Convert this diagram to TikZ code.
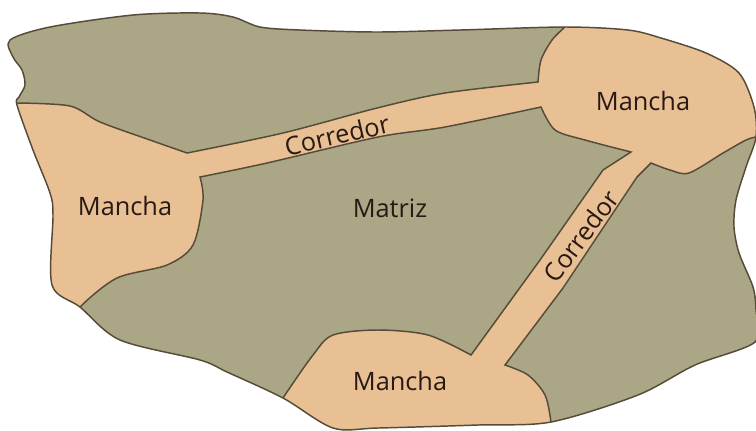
\documentclass[tikz,border=0pt]{standalone}
\usepackage{fontspec}
\setmainfont{Open Sans}
\usepackage{tikz}

\newcommand{\bordematriz}{plot [smooth cycle, tension=0.5] coordinates {(10,40) (50,27) (133,15) (200,13) (233,17) (260,27) (300,30) (377,32) (460,30) (565,27) (628,30) (661,38) (706,53) (739,73) (754,107) (756,137) (746,167) (736,200) (734,227) (739,253) (753,287) (756,310) (755,342) (695,365) (638,395) (551,422) (478,425) (378,428) (333,428) (283,398) (227,372) (200,360) (120,340) (80,307) (52,285) (53,215) (50,193) (33,150) (17,105) (19,97) (25,85) (22,70) (13,57)}}

\begin{document}
\begin{tikzpicture}[x=0.75pt,y=0.75pt,yscale=-1,xscale=1,
  matriz/.style={fill={rgb, 255:red, 170; green, 166; blue, 134 }},
  mancha/.style={color={rgb, 255:red, 85; green, 75; blue, 55 }, line width=1.1pt, fill={rgb, 255:red, 232; green, 192; blue, 148 }},
  borde/.style={color={rgb, 255:red, 85; green, 75; blue, 55 }, line width=1.1pt},
  rotulo/.style={inner sep=0.75pt, text={rgb, 255:red, 40; green, 25; blue, 20 }, font=\fontsize{19}{22}\selectfont}]
\useasboundingbox (0,0) rectangle (756,430);

%Shape: Matriz
\fill [matriz] \bordematriz ;

%Shape: Manchas y corredores
\begin{scope}
\clip \bordematriz ;
\draw [mancha] (-10,103) -- (17,103)
  -- plot [smooth] coordinates {(17,103) (70,106) (100,122) (150,140) (187,153)}
  -- plot [smooth] coordinates {(187,153) (283,133) (377,108) (445,93) (538,82)}
  -- plot [smooth] coordinates {(538,82) (541,60) (552,40) (565,27)}
  -- (570,-10) -- (770,-10) -- (770,137) -- (756,137)
  -- plot [smooth] coordinates {(756,137) (746,140) (723,153) (689,173) (670,170) (651,163)}
  -- (637,177) -- (563,288) -- (505,365)
  -- plot [smooth] coordinates {(505,365) (528,375) (545,395) (551,422) (553,445)}
  -- (265,445)
  -- plot [smooth] coordinates {(270,420) (283,398) (313,355) (333,335) (378,330) (428,335) (471,355)}
  -- (540,260) -- (603,170) -- (631,152)
  -- plot [smooth] coordinates {(631,152) (585,140) (555,130) (541,107)}
  -- plot [smooth] coordinates {(541,107) (445,127) (378,137) (267,163) (200,177)}
  -- plot [smooth] coordinates {(200,177) (203,200) (193,245) (167,265) (117,278) (80,307) (65,330)}
  -- (-10,330) -- cycle ;
\end{scope}

%Curve Lines: borde
\draw [borde] \bordematriz ;

% Text Node
\draw (125,215) node (manchaIzq) [anchor=base] [rotulo] {Mancha};
% Text Node
\draw (390,217) node (matriz) [anchor=base] [rotulo] {Matriz};
% Text Node
\draw (643,110) node (manchaDer) [anchor=base] [rotulo] {Mancha};
% Text Node
\draw (400,390) node (manchaInf) [anchor=base] [rotulo] {Mancha};
% Text Node
\draw (337,135) node (corredorSup) [rotate=13] [rotulo] {Corredor};
% Text Node
\draw (581,236) node (corredorDer) [rotate=53] [rotulo] {Corredor};

\end{tikzpicture}
\end{document}
